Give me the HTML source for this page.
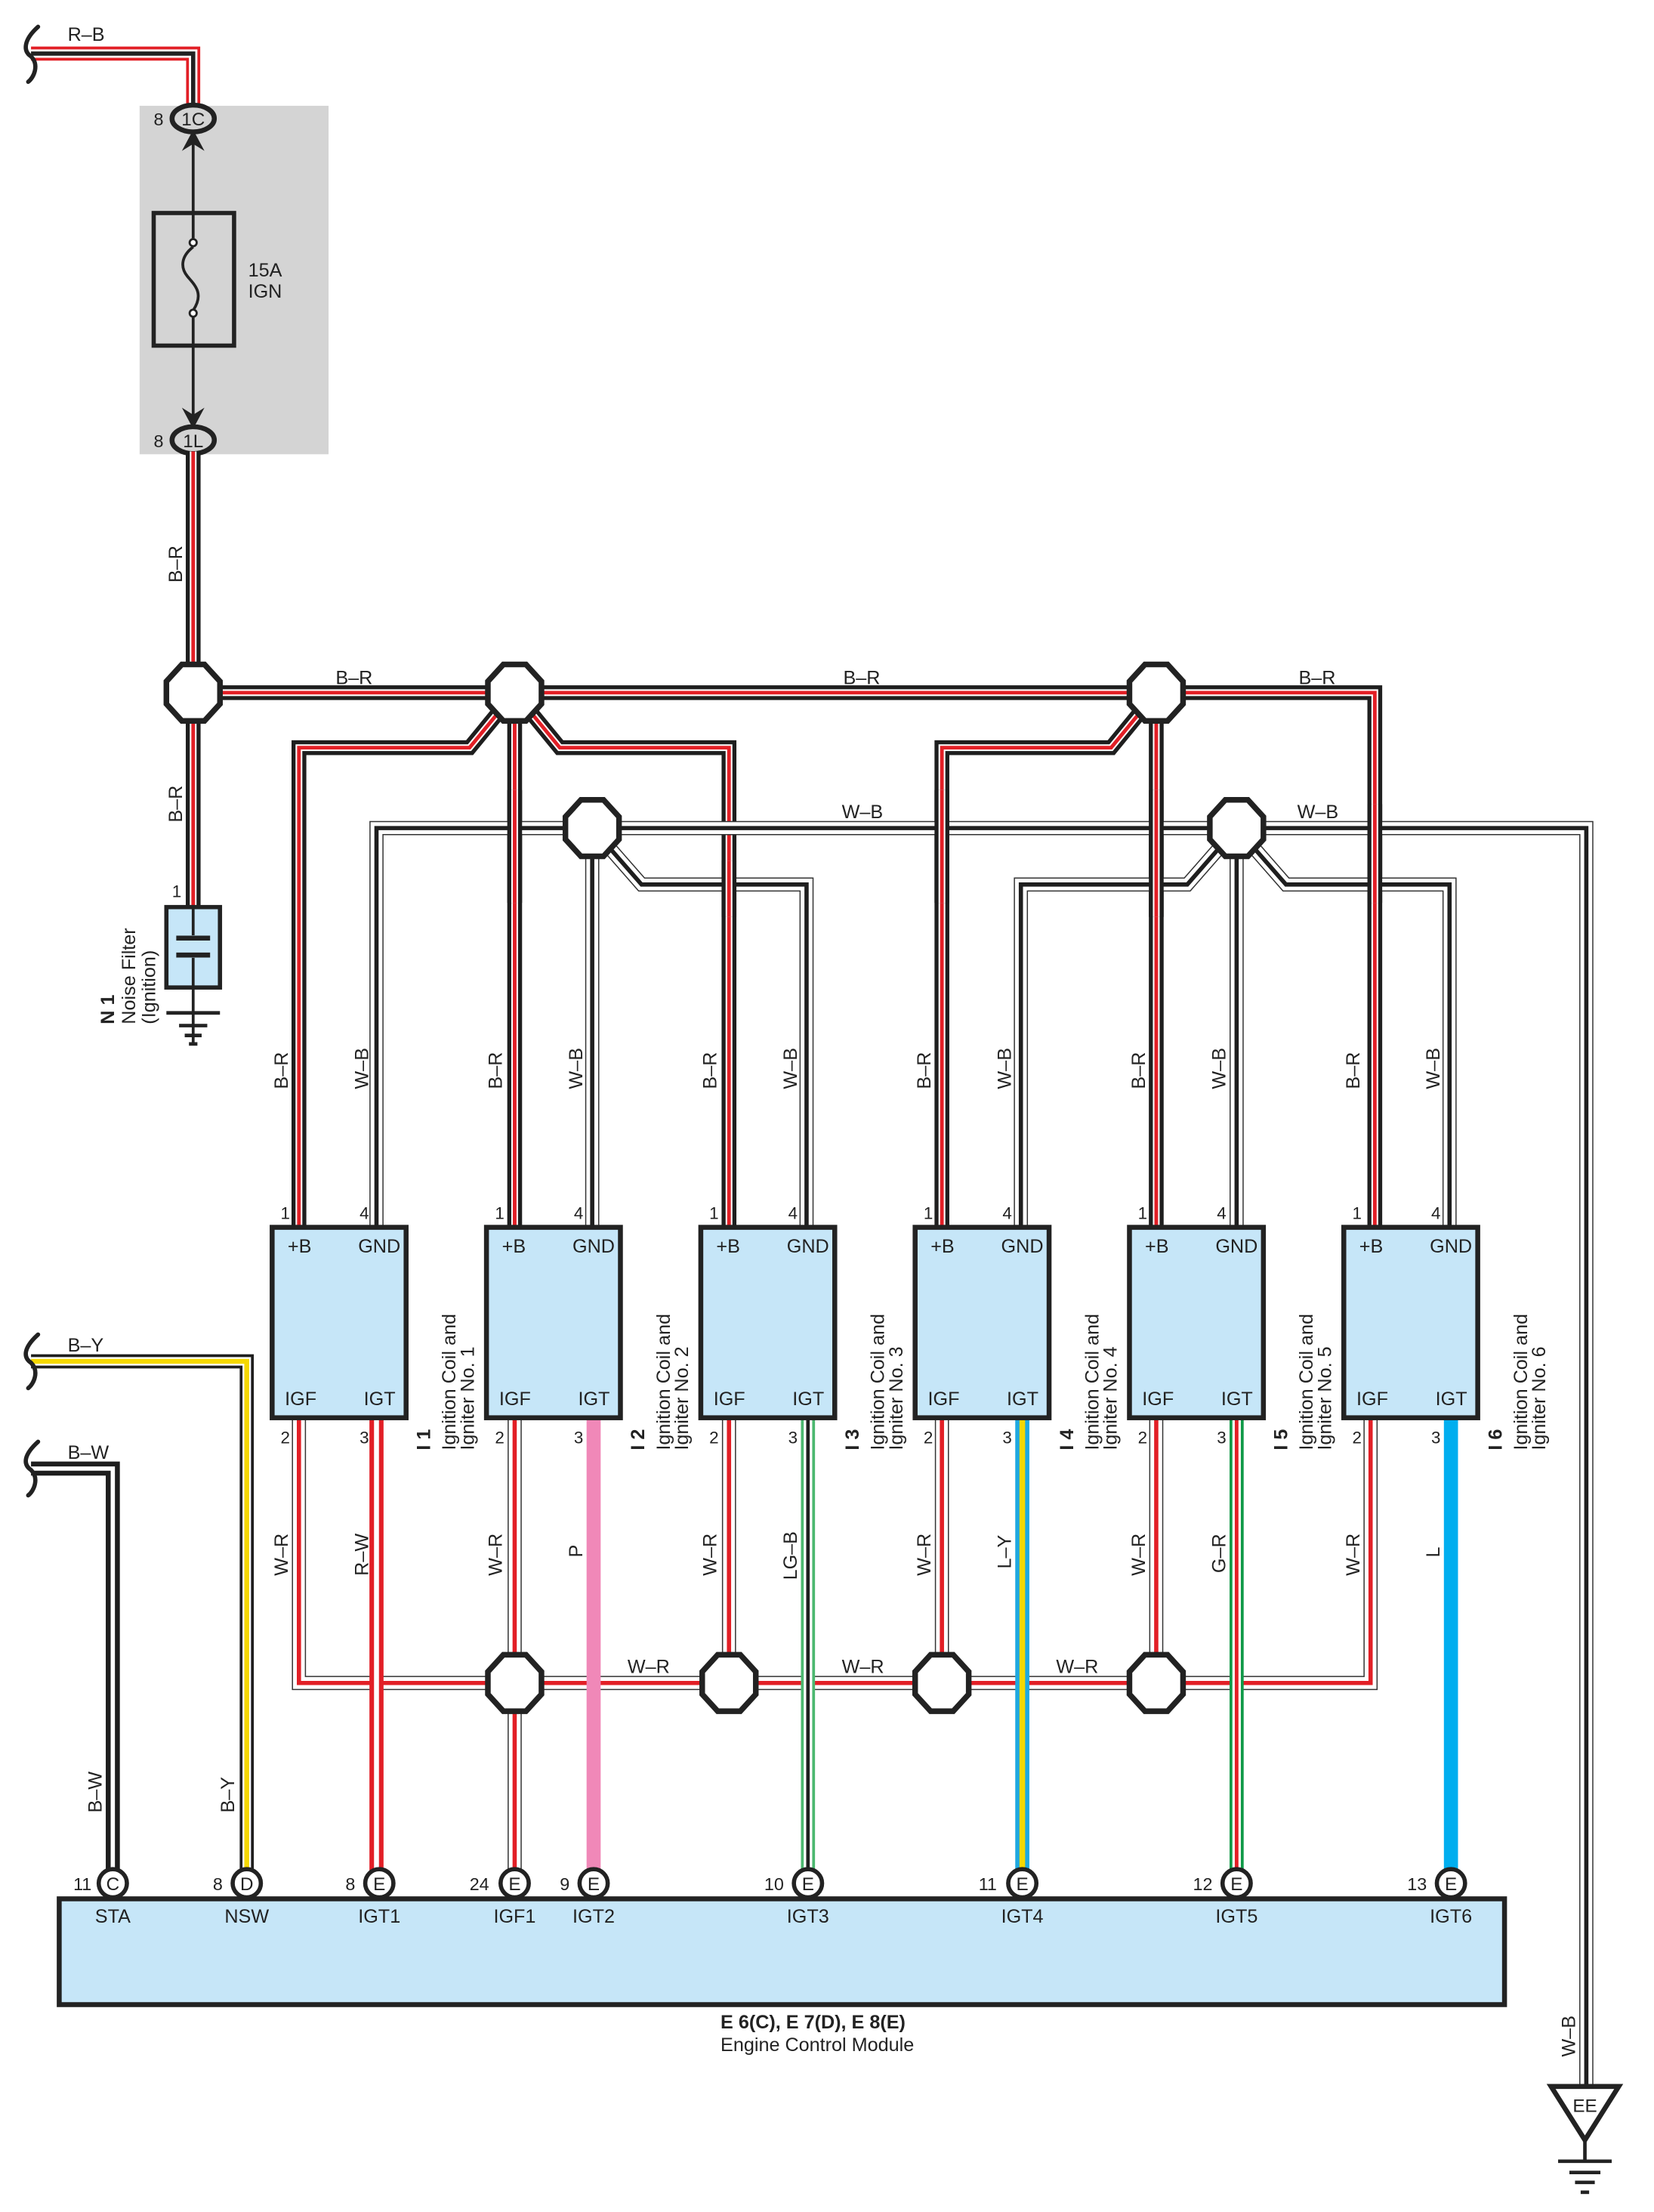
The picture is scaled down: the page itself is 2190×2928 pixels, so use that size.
<!DOCTYPE html>
<html><head><meta charset="utf-8"><style>
html,body{margin:0;padding:0;background:#fff}
svg{display:block}
text{font-family:"Liberation Sans",Arial,sans-serif;fill:#222;font-size:13.5px}
.f{fill:none;stroke-linejoin:miter;stroke-linecap:butt}
</style></head><body>
<svg width="2190" height="2928" viewBox="0 0 1173 1568" preserveAspectRatio="none" xmlns="http://www.w3.org/2000/svg" xmlns:xlink="http://www.w3.org/1999/xlink">
<defs>
<path id="rb" d="M22,38 H137 V78"/>
<path id="br0" d="M137,320 V643"/>
<path id="brh" d="M137,491 H975 V870"/>
<path id="br1" d="M365,491 L333,530 H212 V870"/>
<path id="br2" d="M365,491 V870"/>
<path id="br3" d="M365,491 L397,530 H517 V870"/>
<path id="br4" d="M820,491 L788,530 H668 V870"/>
<path id="br5" d="M820,491 V870"/>
<path id="wbh" d="M267,870 V587 H1125 V1478"/>
<path id="wb2" d="M420,587 V870"/>
<path id="wb3" d="M420,587 L455,627 H572 V870"/>
<path id="wb4" d="M877,587 L842,627 H724 V870"/>
<path id="wb5" d="M877,587 V870"/>
<path id="wb6" d="M877,587 L912,627 H1028 V870"/>
<path id="wrh" d="M212,1005 V1193 H972 V1005"/>
<path id="wr2" d="M365,1005 V1327"/>
<path id="wr3" d="M517,1005 V1193"/>
<path id="wr4" d="M668,1005 V1193"/>
<path id="wr5" d="M820,1005 V1193"/>
<path id="by" d="M22,965 H175 V1327"/>
<path id="bw" d="M22,1041 H80 V1327"/>
<polygon id="oct" points="-8,-20 8,-20 19,-8 19,8 8,20 -8,20 -19,8 -19,-8" fill="#fff" stroke="#222" stroke-width="4"/>
</defs>

<rect x="99" y="75" width="134" height="247" fill="#d4d4d4"/>

<g class="f">
<use xlink:href="#rb" stroke="#e21f26" stroke-width="10"/>
<use xlink:href="#rb" stroke="#fff" stroke-width="6"/>
<use xlink:href="#rb" stroke="#222" stroke-width="3"/>
</g>
<path d="M27,19 C17,28 16,36 22,40 C28,46 24,55 20,58" fill="none" stroke="#222" stroke-width="3" stroke-linecap="round"/>
<text x="48" y="29">R–B</text>

<ellipse cx="137" cy="84" rx="15" ry="9.5" fill="#d4d4d4" stroke="#222" stroke-width="3.5"/>
<text x="137" y="89" text-anchor="middle" style="font-size:13px">1C</text>
<text x="109" y="89" style="font-size:12.5px">8</text>
<polygon points="137,92 145,107 137,102 129,107" fill="#222"/>
<line x1="137" y1="100" x2="137" y2="151" stroke="#222" stroke-width="2"/>
<rect x="109" y="151" width="57" height="94" fill="none" stroke="#222" stroke-width="3"/>
<line x1="137" y1="151" x2="137" y2="170" stroke="#222" stroke-width="2"/>
<circle cx="137" cy="172" r="2.5" fill="#fff" stroke="#222" stroke-width="1.5"/>
<path d="M137,175 C128,182 128,190 133,196 C138,202 145,208 137,220" fill="none" stroke="#222" stroke-width="2"/>
<circle cx="137" cy="222" r="2.5" fill="#fff" stroke="#222" stroke-width="1.5"/>
<line x1="137" y1="225" x2="137" y2="295" stroke="#222" stroke-width="2"/>
<polygon points="137,304 145,289 137,294 129,289" fill="#222"/>
<text x="176" y="196">15A</text>
<text x="176" y="211">IGN</text>
<ellipse cx="137" cy="312" rx="15" ry="9.5" fill="#d4d4d4" stroke="#222" stroke-width="3.5"/>
<text x="137" y="317" text-anchor="middle" style="font-size:13px">1L</text>
<text x="109" y="317" style="font-size:12.5px">8</text>

<g class="f">
<g stroke="#1e1e1e" stroke-width="10.5"><use xlink:href="#br0"/><use xlink:href="#brh"/><use xlink:href="#br1"/><use xlink:href="#br2"/><use xlink:href="#br3"/><use xlink:href="#br4"/><use xlink:href="#br5"/></g>
<g stroke="#fff" stroke-width="4.8"><use xlink:href="#br0"/><use xlink:href="#brh"/><use xlink:href="#br1"/><use xlink:href="#br2"/><use xlink:href="#br3"/><use xlink:href="#br4"/><use xlink:href="#br5"/></g>
<g stroke="#e21f26" stroke-width="2.6"><use xlink:href="#br0"/><use xlink:href="#brh"/><use xlink:href="#br1"/><use xlink:href="#br2"/><use xlink:href="#br3"/><use xlink:href="#br4"/><use xlink:href="#br5"/></g>
</g>

<g class="f">
<g stroke="#333" stroke-width="10"><use xlink:href="#wbh"/><use xlink:href="#wb2"/><use xlink:href="#wb3"/><use xlink:href="#wb4"/><use xlink:href="#wb5"/><use xlink:href="#wb6"/></g>
<g stroke="#fff" stroke-width="8.4"><use xlink:href="#wbh"/><use xlink:href="#wb2"/><use xlink:href="#wb3"/><use xlink:href="#wb4"/><use xlink:href="#wb5"/><use xlink:href="#wb6"/></g>
<g stroke="#1e1e1e" stroke-width="3"><use xlink:href="#wbh"/><use xlink:href="#wb2"/><use xlink:href="#wb3"/><use xlink:href="#wb4"/><use xlink:href="#wb5"/><use xlink:href="#wb6"/></g>
</g>
<g class="f">
<g stroke="#1e1e1e" stroke-width="10.5"><path d="M365,560 V640"/><path d="M517,610 V650"/><path d="M668,560 V640"/><path d="M820,560 V650"/><path d="M975,570 V640"/></g>
<g stroke="#fff" stroke-width="4.8"><path d="M365,560 V640"/><path d="M517,610 V650"/><path d="M668,560 V640"/><path d="M820,560 V650"/><path d="M975,570 V640"/></g>
<g stroke="#e21f26" stroke-width="2.6"><path d="M365,560 V640"/><path d="M517,610 V650"/><path d="M668,560 V640"/><path d="M820,560 V650"/><path d="M975,570 V640"/></g>
</g>

<g class="f">
<g stroke="#333" stroke-width="10"><use xlink:href="#wrh"/><use xlink:href="#wr2"/><use xlink:href="#wr3"/><use xlink:href="#wr4"/><use xlink:href="#wr5"/></g>
<g stroke="#fff" stroke-width="8.4"><use xlink:href="#wrh"/><use xlink:href="#wr2"/><use xlink:href="#wr3"/><use xlink:href="#wr4"/><use xlink:href="#wr5"/></g>
<g stroke="#e21f26" stroke-width="3"><use xlink:href="#wrh"/><use xlink:href="#wr2"/><use xlink:href="#wr3"/><use xlink:href="#wr4"/><use xlink:href="#wr5"/></g>
</g>

<g class="f">
<path d="M267,1005 V1327" stroke="#e21f26" stroke-width="10"/>
<path d="M267,1005 V1327" stroke="#fff" stroke-width="3.5"/>
<path d="M421,1005 V1327" stroke="#f088b8" stroke-width="10"/>
<path d="M573,1005 V1327" stroke="#4cb870" stroke-width="10"/>
<path d="M573,1005 V1327" stroke="#fff" stroke-width="6"/>
<path d="M573,1005 V1327" stroke="#1e1e1e" stroke-width="2.5"/>
<path d="M725,1005 V1327" stroke="#1ea8e0" stroke-width="10"/>
<path d="M725,1005 V1327" stroke="#f5d800" stroke-width="4"/>
<path d="M877,1005 V1327" stroke="#0f9a48" stroke-width="10"/>
<path d="M877,1005 V1327" stroke="#fff" stroke-width="6"/>
<path d="M877,1005 V1327" stroke="#e21f26" stroke-width="2.6"/>
<path d="M1029,1005 V1327" stroke="#00aeef" stroke-width="10"/>
<use xlink:href="#by" stroke="#1e1e1e" stroke-width="10"/>
<use xlink:href="#by" stroke="#fff" stroke-width="6"/>
<use xlink:href="#by" stroke="#f5d800" stroke-width="3.5"/>
<use xlink:href="#bw" stroke="#1e1e1e" stroke-width="10"/>
<use xlink:href="#bw" stroke="#fff" stroke-width="3"/>
</g>
<path d="M27,946 C17,955 16,962 22,966 C28,972 24,981 20,984" fill="none" stroke="#222" stroke-width="3" stroke-linecap="round"/>
<path d="M27,1022 C17,1031 16,1038 22,1042 C28,1048 24,1057 20,1060" fill="none" stroke="#222" stroke-width="3" stroke-linecap="round"/>
<text x="48" y="958">B–Y</text>
<text x="48" y="1034">B–W</text>
<text transform="translate(72,1285) rotate(-90)">B–W</text>
<text transform="translate(166,1285) rotate(-90)">B–Y</text>

<use xlink:href="#oct" x="137" y="491"/>
<use xlink:href="#oct" x="365" y="491"/>
<use xlink:href="#oct" x="820" y="491"/>
<use xlink:href="#oct" x="420" y="587"/>
<use xlink:href="#oct" x="877" y="587"/>
<use xlink:href="#oct" x="365" y="1193"/>
<use xlink:href="#oct" x="517" y="1193"/>
<use xlink:href="#oct" x="668" y="1193"/>
<use xlink:href="#oct" x="820" y="1193"/>

<text x="238" y="485">B–R</text>
<text x="598" y="485">B–R</text>
<text x="921" y="485">B–R</text>
<text x="597" y="580">W–B</text>
<text x="920" y="580">W–B</text>
<text x="445" y="1186">W–R</text>
<text x="597" y="1186">W–R</text>
<text x="749" y="1186">W–R</text>
<text transform="translate(129,413) rotate(-90)">B–R</text>
<text transform="translate(129,583) rotate(-90)">B–R</text>

<text x="122" y="636" style="font-size:12px">1</text>
<rect x="118" y="643" width="38" height="57" fill="#c6e6f8" stroke="#222" stroke-width="3"/>
<line x1="137" y1="643" x2="137" y2="663" stroke="#222" stroke-width="2"/>
<line x1="137" y1="679" x2="137" y2="740" stroke="#222" stroke-width="2"/>
<line x1="125" y1="665" x2="149" y2="665" stroke="#222" stroke-width="3.5"/>
<line x1="125" y1="677" x2="149" y2="677" stroke="#222" stroke-width="3.5"/>
<line x1="118" y1="718" x2="156" y2="718" stroke="#222" stroke-width="2.5"/>
<line x1="127" y1="727" x2="147" y2="727" stroke="#222" stroke-width="2.5"/>
<line x1="131" y1="734" x2="143" y2="734" stroke="#222" stroke-width="2.5"/>
<line x1="134" y1="740" x2="140" y2="740" stroke="#222" stroke-width="2.5"/>
<text transform="translate(81,726) rotate(-90)" style="font-weight:bold">N 1</text>
<text transform="translate(96,726) rotate(-90)">Noise Filter</text>
<text transform="translate(110,726) rotate(-90)">(Ignition)</text>

<g>
<g>
<rect x="193" y="870" width="95" height="135" fill="#c6e6f8" stroke="#222" stroke-width="3.5"/>
<text x="204" y="888">+B</text><text x="254" y="888">GND</text>
<text x="202" y="996">IGF</text><text x="258" y="996">IGT</text>
<text x="199" y="864" style="font-size:12px">1</text><text x="255" y="864" style="font-size:12px">4</text>
<text x="199" y="1023" style="font-size:12px">2</text><text x="255" y="1023" style="font-size:12px">3</text>
<text transform="translate(204,772) rotate(-90)">B–R</text>
<text transform="translate(261,772) rotate(-90)">W–B</text>
<text transform="translate(204,1117) rotate(-90)">W–R</text>
<text transform="translate(261,1117) rotate(-90)">R–W</text>
<text transform="translate(305,1028) rotate(-90)" style="font-weight:bold">I 1</text>
<text transform="translate(323,1028) rotate(-90)">Ignition Coil and</text>
<text transform="translate(336,1028) rotate(-90)">Igniter No. 1</text>
</g>
<g transform="translate(152,0)">
<rect x="193" y="870" width="95" height="135" fill="#c6e6f8" stroke="#222" stroke-width="3.5"/>
<text x="204" y="888">+B</text><text x="254" y="888">GND</text>
<text x="202" y="996">IGF</text><text x="258" y="996">IGT</text>
<text x="199" y="864" style="font-size:12px">1</text><text x="255" y="864" style="font-size:12px">4</text>
<text x="199" y="1023" style="font-size:12px">2</text><text x="255" y="1023" style="font-size:12px">3</text>
<text transform="translate(204,772) rotate(-90)">B–R</text>
<text transform="translate(261,772) rotate(-90)">W–B</text>
<text transform="translate(204,1117) rotate(-90)">W–R</text>
<text transform="translate(261,1104) rotate(-90)">P</text>
<text transform="translate(305,1028) rotate(-90)" style="font-weight:bold">I 2</text>
<text transform="translate(323,1028) rotate(-90)">Ignition Coil and</text>
<text transform="translate(336,1028) rotate(-90)">Igniter No. 2</text>
</g>
<g transform="translate(304,0)">
<rect x="193" y="870" width="95" height="135" fill="#c6e6f8" stroke="#222" stroke-width="3.5"/>
<text x="204" y="888">+B</text><text x="254" y="888">GND</text>
<text x="202" y="996">IGF</text><text x="258" y="996">IGT</text>
<text x="199" y="864" style="font-size:12px">1</text><text x="255" y="864" style="font-size:12px">4</text>
<text x="199" y="1023" style="font-size:12px">2</text><text x="255" y="1023" style="font-size:12px">3</text>
<text transform="translate(204,772) rotate(-90)">B–R</text>
<text transform="translate(261,772) rotate(-90)">W–B</text>
<text transform="translate(204,1117) rotate(-90)">W–R</text>
<text transform="translate(261,1120) rotate(-90)">LG–B</text>
<text transform="translate(305,1028) rotate(-90)" style="font-weight:bold">I 3</text>
<text transform="translate(323,1028) rotate(-90)">Ignition Coil and</text>
<text transform="translate(336,1028) rotate(-90)">Igniter No. 3</text>
</g>
<g transform="translate(456,0)">
<rect x="193" y="870" width="95" height="135" fill="#c6e6f8" stroke="#222" stroke-width="3.5"/>
<text x="204" y="888">+B</text><text x="254" y="888">GND</text>
<text x="202" y="996">IGF</text><text x="258" y="996">IGT</text>
<text x="199" y="864" style="font-size:12px">1</text><text x="255" y="864" style="font-size:12px">4</text>
<text x="199" y="1023" style="font-size:12px">2</text><text x="255" y="1023" style="font-size:12px">3</text>
<text transform="translate(204,772) rotate(-90)">B–R</text>
<text transform="translate(261,772) rotate(-90)">W–B</text>
<text transform="translate(204,1117) rotate(-90)">W–R</text>
<text transform="translate(261,1112) rotate(-90)">L–Y</text>
<text transform="translate(305,1028) rotate(-90)" style="font-weight:bold">I 4</text>
<text transform="translate(323,1028) rotate(-90)">Ignition Coil and</text>
<text transform="translate(336,1028) rotate(-90)">Igniter No. 4</text>
</g>
<g transform="translate(608,0)">
<rect x="193" y="870" width="95" height="135" fill="#c6e6f8" stroke="#222" stroke-width="3.5"/>
<text x="204" y="888">+B</text><text x="254" y="888">GND</text>
<text x="202" y="996">IGF</text><text x="258" y="996">IGT</text>
<text x="199" y="864" style="font-size:12px">1</text><text x="255" y="864" style="font-size:12px">4</text>
<text x="199" y="1023" style="font-size:12px">2</text><text x="255" y="1023" style="font-size:12px">3</text>
<text transform="translate(204,772) rotate(-90)">B–R</text>
<text transform="translate(261,772) rotate(-90)">W–B</text>
<text transform="translate(204,1117) rotate(-90)">W–R</text>
<text transform="translate(261,1115) rotate(-90)">G–R</text>
<text transform="translate(305,1028) rotate(-90)" style="font-weight:bold">I 5</text>
<text transform="translate(323,1028) rotate(-90)">Ignition Coil and</text>
<text transform="translate(336,1028) rotate(-90)">Igniter No. 5</text>
</g>
<g transform="translate(760,0)">
<rect x="193" y="870" width="95" height="135" fill="#c6e6f8" stroke="#222" stroke-width="3.5"/>
<text x="204" y="888">+B</text><text x="254" y="888">GND</text>
<text x="202" y="996">IGF</text><text x="258" y="996">IGT</text>
<text x="199" y="864" style="font-size:12px">1</text><text x="255" y="864" style="font-size:12px">4</text>
<text x="199" y="1023" style="font-size:12px">2</text><text x="255" y="1023" style="font-size:12px">3</text>
<text transform="translate(204,772) rotate(-90)">B–R</text>
<text transform="translate(261,772) rotate(-90)">W–B</text>
<text transform="translate(204,1117) rotate(-90)">W–R</text>
<text transform="translate(261,1104) rotate(-90)">L</text>
<text transform="translate(305,1028) rotate(-90)" style="font-weight:bold">I 6</text>
<text transform="translate(323,1028) rotate(-90)">Ignition Coil and</text>
<text transform="translate(336,1028) rotate(-90)">Igniter No. 6</text>
</g>
</g>

<rect x="42" y="1346" width="1025" height="75" fill="#c6e6f8" stroke="#222" stroke-width="3.5"/>
<g fill="#fff" stroke="#222" stroke-width="3">
<circle cx="80" cy="1335" r="10"/><circle cx="175" cy="1335" r="10"/><circle cx="269" cy="1335" r="10"/>
<circle cx="365" cy="1335" r="10"/><circle cx="421" cy="1335" r="10"/><circle cx="573" cy="1335" r="10"/>
<circle cx="725" cy="1335" r="10"/><circle cx="877" cy="1335" r="10"/><circle cx="1029" cy="1335" r="10"/>
</g>
<g>
<text x="80" y="1340" text-anchor="middle" style="font-size:13px">C</text><text x="175" y="1340" text-anchor="middle" style="font-size:13px">D</text>
<text x="269" y="1340" text-anchor="middle" style="font-size:13px">E</text><text x="365" y="1340" text-anchor="middle" style="font-size:13px">E</text>
<text x="421" y="1340" text-anchor="middle" style="font-size:13px">E</text><text x="573" y="1340" text-anchor="middle" style="font-size:13px">E</text>
<text x="725" y="1340" text-anchor="middle" style="font-size:13px">E</text><text x="877" y="1340" text-anchor="middle" style="font-size:13px">E</text>
<text x="1029" y="1340" text-anchor="middle" style="font-size:13px">E</text>
<text x="52" y="1340" style="font-size:12.5px">11</text><text x="151" y="1340" style="font-size:12.5px">8</text>
<text x="245" y="1340" style="font-size:12.5px">8</text><text x="333" y="1340" style="font-size:12.5px">24</text>
<text x="397" y="1340" style="font-size:12.5px">9</text><text x="542" y="1340" style="font-size:12.5px">10</text>
<text x="694" y="1340" style="font-size:12.5px">11</text><text x="846" y="1340" style="font-size:12.5px">12</text>
<text x="998" y="1340" style="font-size:12.5px">13</text>
</g>
<text x="80" y="1363" text-anchor="middle">STA</text>
<text x="175" y="1363" text-anchor="middle">NSW</text>
<text x="269" y="1363" text-anchor="middle">IGT1</text>
<text x="365" y="1363" text-anchor="middle">IGF1</text>
<text x="421" y="1363" text-anchor="middle">IGT2</text>
<text x="573" y="1363" text-anchor="middle">IGT3</text>
<text x="725" y="1363" text-anchor="middle">IGT4</text>
<text x="877" y="1363" text-anchor="middle">IGT5</text>
<text x="1029" y="1363" text-anchor="middle">IGT6</text>
<text x="511" y="1438" style="font-weight:bold">E 6(C), E 7(D), E 8(E)</text>
<text x="511" y="1454">Engine Control Module</text>

<text transform="translate(1117,1458) rotate(-90)">W–B</text>
<polygon points="1100,1479 1148,1479 1124,1517" fill="#fff" stroke="#222" stroke-width="3.5" stroke-linejoin="miter"/>
<text x="1124" y="1497" text-anchor="middle" style="font-size:13px">EE</text>
<line x1="1124" y1="1517" x2="1124" y2="1532" stroke="#222" stroke-width="2.5"/>
<line x1="1105" y1="1532" x2="1143" y2="1532" stroke="#222" stroke-width="2.5"/>
<line x1="1113" y1="1540" x2="1135" y2="1540" stroke="#222" stroke-width="2.5"/>
<line x1="1117" y1="1547" x2="1131" y2="1547" stroke="#222" stroke-width="2.5"/>
<line x1="1121" y1="1554" x2="1127" y2="1554" stroke="#222" stroke-width="2.5"/>
</svg>
</body></html>
